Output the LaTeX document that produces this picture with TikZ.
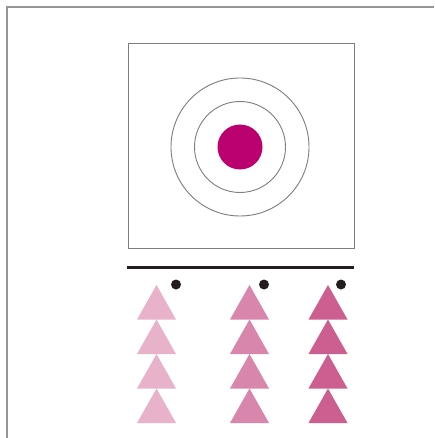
\documentclass[tikz,border=0pt]{standalone}
\definecolor{framegray}{RGB}{150,150,150}
\definecolor{ringgray}{RGB}{125,125,125}
\definecolor{target}{RGB}{187,0,112}
\definecolor{pinkA}{RGB}{232,178,203}
\definecolor{pinkB}{RGB}{216,134,171}
\definecolor{pinkC}{RGB}{204,94,144}
\definecolor{ink}{RGB}{34,30,32}
\tikzset{
  frameline/.style={draw=framegray,line width=1.5pt},
  boxline/.style={draw=ringgray,line width=0.9pt},
  ring/.style={draw=ringgray,line width=0.9pt},
  tri/.style={draw=none},
  dotmark/.style={fill=ink,draw=none}
}
\begin{document}
\begin{tikzpicture}[x=1pt,y=-1pt]
\useasboundingbox (0,0) rectangle (434,438);
\fill[white] (0,0) rectangle (434,438);
% outer frame
\draw[frameline] (7,438) -- (7,7) -- (434,7);
% inner square
\draw[boxline] (128,43) rectangle (354,248);
% target
\draw[ring] (240,147) circle[radius=69];
\draw[ring] (240,147) circle[radius=45.5];
\fill[target] (240,147) circle[radius=22.5];
% rule
\draw[ink,line width=3pt] (127,267) -- (354,267);
% dots
\foreach \x in {176,264,341} \fill[dotmark] (\x,284.5) circle[radius=5];
% triangles
\foreach \cx/\col in {156.5/pinkA,249.5/pinkB,328/pinkC}{
  \foreach \i in {0,1,2,3}{
    \pgfmathsetmacro{\ty}{285+34.5*\i}
    \fill[\col,tri] (\cx-19.5,\ty+34.5) -- (\cx,\ty) -- (\cx+19.5,\ty+34.5) -- cycle;
  }
}
\end{tikzpicture}
\end{document}
